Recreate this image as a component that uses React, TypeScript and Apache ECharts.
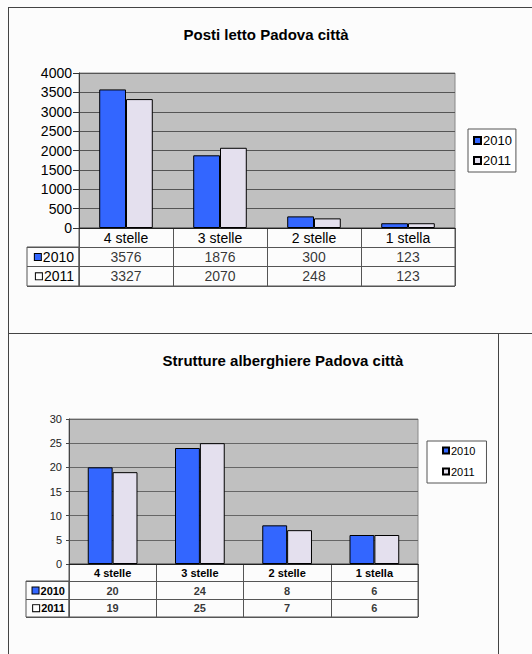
import React, { useEffect, useRef } from "react";
import * as echarts from "echarts";

const categories = ["4 stelle", "3 stelle", "2 stelle", "1 stella"];
const years = ["2010", "2011"];
const postiLetto2010 = [3576, 1876, 300, 123];
const postiLetto2011 = [3327, 2070, 248, 123];
const strutture2010 = [20, 24, 8, 6];
const strutture2011 = [19, 25, 7, 6];
const topTitle = "Posti letto Padova città";
const bottomTitle = "Strutture alberghiere Padova città";

const BLUE = "#3366ff";
const LIGHT = "#e4e0ee";
const FONT = "'Liberation Sans', Arial, sans-serif";

export default function App() {
  const ref = useRef<HTMLDivElement>(null);
  useEffect(() => {
    if (!ref.current) return;
    const chart = echarts.init(ref.current, undefined, { renderer: "svg" });

    const rowLabel = (bold: boolean, size: number) => ({
      fontFamily: FONT,
      fontSize: size,
      fontWeight: bold ? "bold" : "normal",
      color: "#000",
      margin: bold ? 4 : 5,
      formatter: (v: string) =>
        v === "2010" ? `{b|}{t|${v}}` : v === "2011" ? `{w|}{t|${v}}` : "",
      rich: {
        b: { width: 6, height: 6, backgroundColor: BLUE, borderColor: "#000", borderWidth: 1 },
        w: { width: 6, height: 6, backgroundColor: "#fff", borderColor: "#000", borderWidth: 1 },
        t: { fontFamily: FONT, fontSize: size, fontWeight: bold ? "bold" : "normal", color: "#000", padding: [0, 0, 0, 2] },
      },
    });

    const tableCells = (v2010: number[], v2011: number[]) => {
      const out: any[] = [];
      categories.forEach((c, i) => {
        out.push([c, "2010", v2010[i]]);
        out.push([c, "2011", v2011[i]]);
      });
      return out;
    };

    const barStyle = (color: string) => ({ color, borderColor: "#000", borderWidth: 1 });

    const option: any = {
      animation: false,
      backgroundColor: "#fcfcfc",
      title: [
        {
          text: topTitle,
          left: 261,
          top: 22,
          textAlign: "center",
          textStyle: { fontFamily: FONT, fontSize: 15, fontWeight: "bold", color: "#000" },
        },
        {
          text: bottomTitle,
          left: 278,
          top: 348,
          textAlign: "center",
          textStyle: { fontFamily: FONT, fontSize: 15, fontWeight: "bold", color: "#000" },
        },
      ],
      legend: [
        {
          data: years,
          orient: "vertical",
          left: 468,
          top: 129,
          padding: [5, 4, 5, 5],
          itemGap: 7,
          itemWidth: 7,
          itemHeight: 7,
          icon: "rect",
          borderColor: "#555",
          borderWidth: 1,
          backgroundColor: "#fff",
          selectedMode: false,
          textStyle: { fontFamily: FONT, fontSize: 13, color: "#000", padding: [0, 0, 0, -3] },
        },
        {
          data: years.map((y) => "s" + y),
          formatter: (n: string) => n.slice(1),
          orient: "vertical",
          left: 427,
          top: 441,
          padding: [4, 11, 6, 15],
          itemGap: 10,
          itemWidth: 6,
          itemHeight: 6,
          icon: "rect",
          borderColor: "#555",
          borderWidth: 1,
          backgroundColor: "#fff",
          selectedMode: false,
          textStyle: { fontFamily: FONT, fontSize: 11, color: "#000", padding: [0, 0, 0, -3] },
        },
      ],
      grid: [
        { left: 79, top: 73, width: 376, height: 155, show: true, backgroundColor: "#c0c0c0", borderColor: "#888", borderWidth: 1 },
        { left: 79, top: 228, width: 376, height: 58, show: true, borderColor: "#555", borderWidth: 1 },
        { left: 27, top: 247, width: 52, height: 39, show: true, borderColor: "#555", borderWidth: 1 },
        { left: 69, top: 419, width: 349, height: 145, show: true, backgroundColor: "#c0c0c0", borderColor: "#888", borderWidth: 1 },
        { left: 69, top: 564, width: 349, height: 53, show: true, borderColor: "#555", borderWidth: 1 },
        { left: 26, top: 581, width: 43, height: 36, show: true, borderColor: "#555", borderWidth: 1 },
      ],
      xAxis: [
        {
          gridIndex: 0, type: "category", data: categories,
          axisLine: { show: true, lineStyle: { color: "#222" } },
          axisTick: { show: false },
          axisLabel: { fontFamily: FONT, fontSize: 14, color: "#000", margin: 3, interval: 0 },
        },
        {
          gridIndex: 1, type: "category", data: categories,
          axisLine: { show: false }, axisTick: { show: false }, axisLabel: { show: false },
          splitLine: { show: true, interval: 0, lineStyle: { color: "#555", width: 1 } },
        },
        { gridIndex: 2, type: "value", show: false },
        {
          gridIndex: 3, type: "category", data: categories,
          axisLine: { show: true, lineStyle: { color: "#222" } },
          axisTick: { show: false },
          axisLabel: { fontFamily: FONT, fontSize: 11, fontWeight: "bold", color: "#000", margin: 3, interval: 0 },
        },
        {
          gridIndex: 4, type: "category", data: categories,
          axisLine: { show: false }, axisTick: { show: false }, axisLabel: { show: false },
          splitLine: { show: true, interval: 0, lineStyle: { color: "#555", width: 1 } },
        },
        { gridIndex: 5, type: "value", show: false },
      ],
      yAxis: [
        {
          gridIndex: 0, type: "value", min: 0, max: 4000, interval: 500,
          axisLine: { show: true, lineStyle: { color: "#333" } },
          axisTick: { show: true, length: 6, lineStyle: { color: "#333" } },
          axisLabel: { fontFamily: FONT, fontSize: 14, color: "#000", margin: 7, formatter: (v: number) => String(v) },
          splitLine: { show: true, lineStyle: { color: "#555", width: 1 } },
        },
        {
          gridIndex: 1, type: "category", data: ["", ...years], inverse: true,
          axisLine: { show: false }, axisTick: { show: false },
          axisLabel: rowLabel(false, 14),
          splitLine: { show: true, interval: 0, lineStyle: { color: "#555", width: 1 } },
        },
        {
          gridIndex: 2, type: "category", data: years, inverse: true,
          axisLine: { show: false }, axisTick: { show: false }, axisLabel: { show: false },
          splitLine: { show: true, interval: 0, lineStyle: { color: "#555", width: 1 } },
        },
        {
          gridIndex: 3, type: "value", min: 0, max: 30, interval: 5,
          axisLine: { show: true, lineStyle: { color: "#444" } },
          axisTick: { show: true, length: 3, lineStyle: { color: "#444" } },
          axisLabel: { fontFamily: FONT, fontSize: 11, color: "#222", margin: 7, formatter: (v: number) => String(v) },
          splitLine: { show: true, lineStyle: { color: "#666", width: 1 } },
        },
        {
          gridIndex: 4, type: "category", data: ["", ...years], inverse: true,
          axisLine: { show: false }, axisTick: { show: false },
          axisLabel: rowLabel(true, 11),
          splitLine: { show: true, interval: 0, lineStyle: { color: "#555", width: 1 } },
        },
        {
          gridIndex: 5, type: "category", data: years, inverse: true,
          axisLine: { show: false }, axisTick: { show: false }, axisLabel: { show: false },
          splitLine: { show: true, interval: 0, lineStyle: { color: "#555", width: 1 } },
        },
      ],
      series: [
        {
          name: "2010", type: "bar", xAxisIndex: 0, yAxisIndex: 0, data: postiLetto2010,
          barGap: "0%", barCategoryGap: "43%", itemStyle: barStyle(BLUE),
        },
        {
          name: "2011", type: "bar", xAxisIndex: 0, yAxisIndex: 0, data: postiLetto2011,
          barGap: "0%", barCategoryGap: "43%", itemStyle: barStyle(LIGHT),
        },
        {
          name: "s2010", type: "bar", xAxisIndex: 3, yAxisIndex: 3, data: strutture2010,
          barGap: "0%", barCategoryGap: "43%", itemStyle: barStyle(BLUE),
        },
        {
          name: "s2011", type: "bar", xAxisIndex: 3, yAxisIndex: 3, data: strutture2011,
          barGap: "0%", barCategoryGap: "43%", itemStyle: barStyle(LIGHT),
        },
        {
          name: "tabellaPosti", type: "scatter", xAxisIndex: 1, yAxisIndex: 1,
          data: tableCells(postiLetto2010, postiLetto2011),
          symbol: "rect", symbolSize: 1, itemStyle: { color: "rgba(0,0,0,0)" },
          label: {
            show: true, position: "inside", formatter: (p: any) => String(p.value[2]),
            fontFamily: FONT, fontSize: 14, color: "#000",
          },
        },
        {
          name: "tabellaStrutture", type: "scatter", xAxisIndex: 4, yAxisIndex: 4,
          data: tableCells(strutture2010, strutture2011),
          symbol: "rect", symbolSize: 1, itemStyle: { color: "rgba(0,0,0,0)" },
          label: {
            show: true, position: "inside", formatter: (p: any) => String(p.value[2]),
            fontFamily: FONT, fontSize: 11, fontWeight: "bold", color: "#000",
          },
        },
      ],
      graphic: [
        { type: "line", shape: { x1: 8, y1: 7.5, x2: 532, y2: 7.5 }, style: { stroke: "#444", lineWidth: 1 }, silent: true },
        { type: "line", shape: { x1: 8.5, y1: 7, x2: 8.5, y2: 654 }, style: { stroke: "#444", lineWidth: 1 }, silent: true },
        { type: "line", shape: { x1: 8, y1: 333.5, x2: 532, y2: 333.5 }, style: { stroke: "#444", lineWidth: 1 }, silent: true },
        { type: "line", shape: { x1: 498.5, y1: 333, x2: 498.5, y2: 654 }, style: { stroke: "#444", lineWidth: 1 }, silent: true },
      ],
    };

    chart.setOption(option);
    return () => chart.dispose();
  }, []);

  return (
    <div
      ref={ref}
      style={{ position: "fixed", left: 0, top: 0, width: 532, height: 654 }}
    />
  );
}
